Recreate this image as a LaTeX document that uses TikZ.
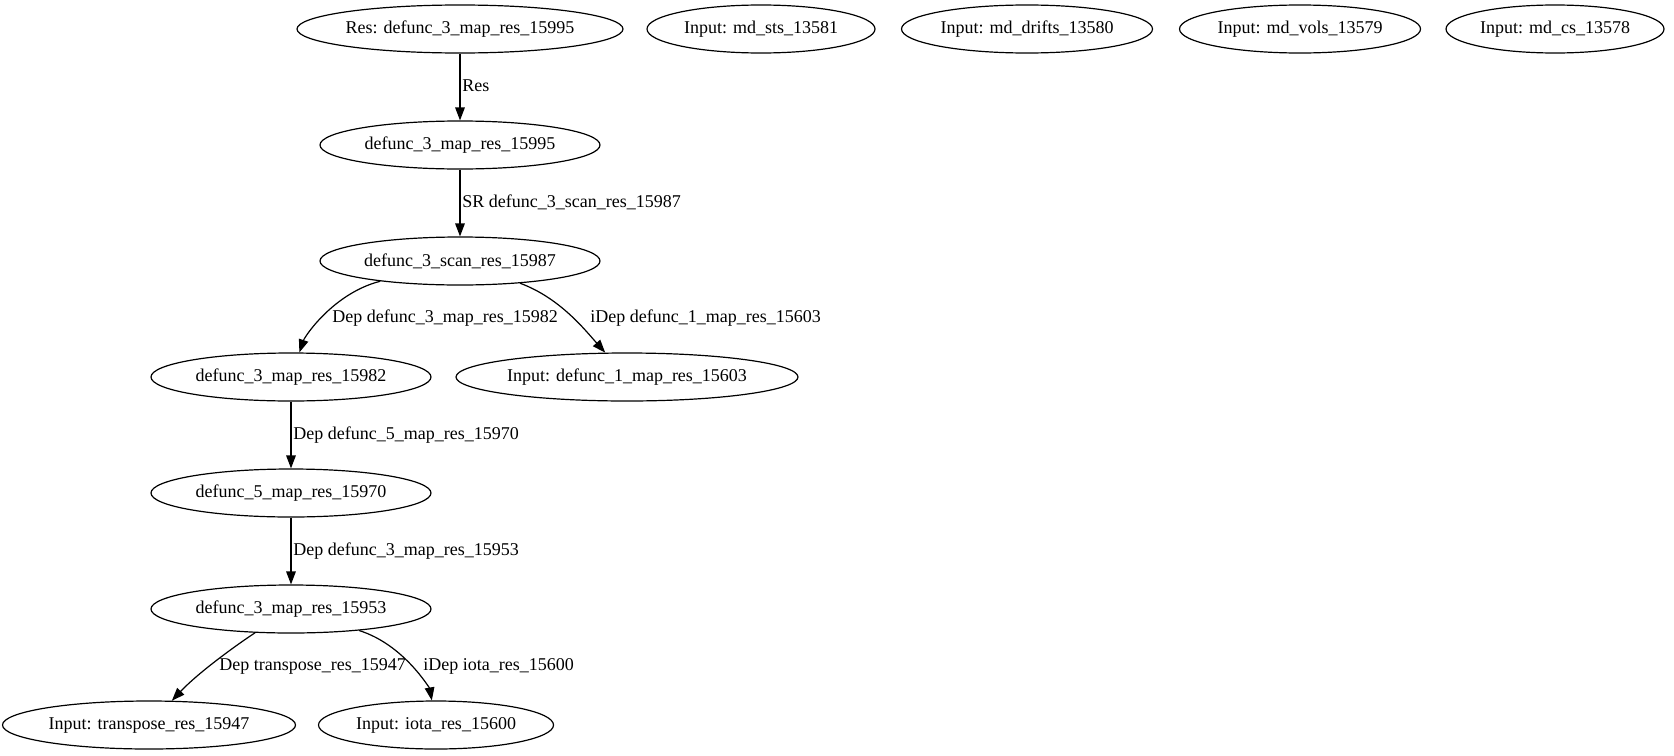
\documentclass[tikz,border=0pt]{standalone}
\usepackage{fontspec}
\setmainfont{Liberation Serif}
\usetikzlibrary{shapes.geometric,arrows.meta}
\begin{document}
\begin{tikzpicture}[x=0.5pt,y=-0.5pt,
  nd/.style={draw, ellipse, inner sep=0pt, minimum height=24pt, line width=0.6pt, font=\fontsize{9}{10}\selectfont},
  lbl/.style={anchor=west, inner sep=0pt, font=\fontsize{9}{10}\selectfont},
  edge/.style={draw, line width=0.6pt, -{Triangle[length=6.5pt,width=4.8pt]}}]
\useasboundingbox (0,0) rectangle (1674,755);
% nodes
\node[nd, minimum width=163pt] (R) at (460,29) {Res: defunc\_3\_map\_res\_15995};
\node[nd, minimum width=114pt] (sts) at (761,29) {Input: md\_sts\_13581};
\node[nd, minimum width=125.5pt] (dr) at (1027,29) {Input: md\_drifts\_13580};
\node[nd, minimum width=120.5pt] (vo) at (1300,29) {Input: md\_vols\_13579};
\node[nd, minimum width=109pt] (cs) at (1555,29) {Input: md\_cs\_13578};
\node[nd, minimum width=140pt] (m95) at (460,145) {defunc\_3\_map\_res\_15995};
\node[nd, minimum width=140pt] (s87) at (460,261) {defunc\_3\_scan\_res\_15987};
\node[nd, minimum width=140pt] (m82) at (291,377) {defunc\_3\_map\_res\_15982};
\node[nd, minimum width=171pt] (in03) at (627,377) {Input: defunc\_1\_map\_res\_15603};
\node[nd, minimum width=140pt] (m70) at (291,493) {defunc\_5\_map\_res\_15970};
\node[nd, minimum width=140pt] (m53) at (291,609) {defunc\_3\_map\_res\_15953};
\node[nd, minimum width=146.5pt] (tr) at (149,725) {Input: transpose\_res\_15947};
\node[nd, minimum width=117.5pt] (io) at (436,725) {Input: iota\_res\_15600};
% edges
\draw[edge] (R) -- (m95);
\draw[edge] (m95) -- (s87);
\draw[edge] (s87) .. controls (334,293) and (305,336) .. (m82);
\draw[edge] (s87) .. controls (560,298) and (585,330) .. (in03);
\draw[edge] (m82) -- (m70);
\draw[edge] (m70) -- (m53);
\draw[edge] (m53) .. controls (232,648) and (197,674) .. (tr);
\draw[edge] (m53) .. controls (405,645) and (430,690) .. (io);
% labels
\node[lbl] (l1) at (462,86) {Res};
\node[lbl] (l2) at (462,202) {SR defunc\_3\_scan\_res\_15987};
\node[lbl] (l3) at (332,318) {Dep defunc\_3\_map\_res\_15982};
\node[lbl] (l4) at (590,318) {iDep defunc\_1\_map\_res\_15603};
\node[lbl] (l5) at (293,435) {Dep defunc\_5\_map\_res\_15970};
\node[lbl] (l6) at (293,551) {Dep defunc\_3\_map\_res\_15953};
\node[lbl] (l7) at (219,666) {Dep transpose\_res\_15947};
\node[lbl] (l8) at (423,666) {iDep iota\_res\_15600};
\end{tikzpicture}
\end{document}
